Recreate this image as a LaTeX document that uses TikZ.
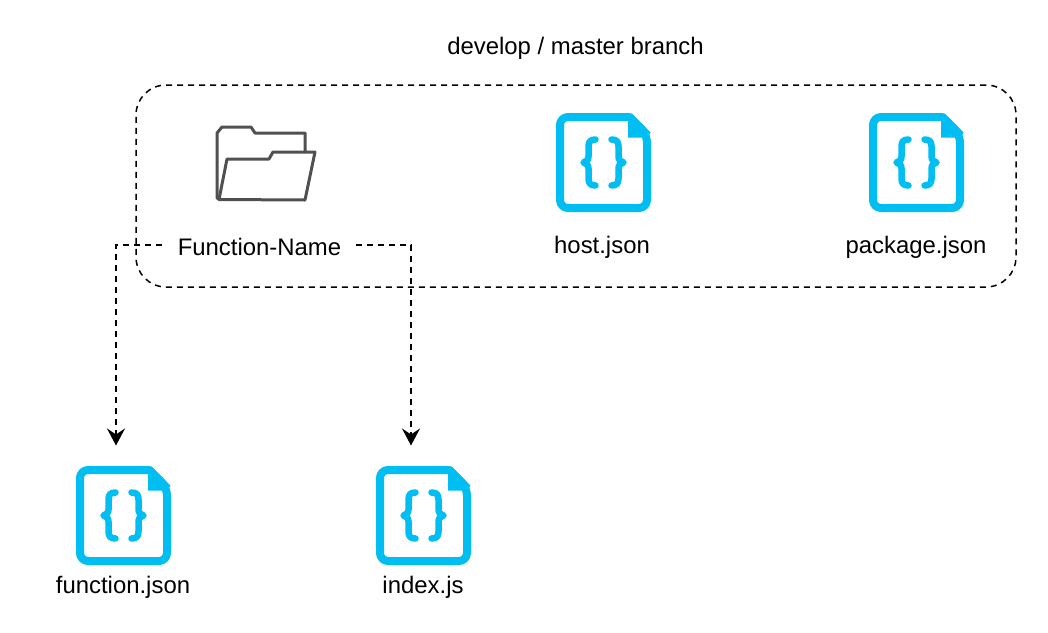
\documentclass[tikz,border=0pt]{standalone}
\usepackage{fontspec}
\setmainfont{Liberation Sans}
\usetikzlibrary{arrows.meta}
\definecolor{iconblue}{HTML}{00BEF2}
\definecolor{foldergrey}{HTML}{505050}
\tikzset{
  x=1pt,y=-1pt,
  label text/.style={font=\fontsize{23.9}{28}\selectfont,text=black,inner sep=0pt,anchor=center},
  dashline/.style={draw=black,line width=1.5pt,dash pattern=on 6pt off 5pt},
  flow/.style={dashline,-{Stealth[length=17pt,width=18pt,inset=6pt]}},
  folderline/.style={draw=foldergrey,line width=3pt,line join=round,line cap=round},
  filefile/.style={draw=iconblue,line width=8pt,line join=round,fill=white},
  bracestroke/.style={draw=iconblue,line width=6.5pt,line cap=round,line join=round},
  pics/jsonfile/.style={code={
    \draw[filefile,rounded corners=8pt] (0,-45.5) -- (-43.5,-45.5) -- (-43.5,45.5) -- (43.5,45.5) -- (43.5,-28) [sharp corners] -- (26,-45.5) -- cycle;
    \fill[iconblue] (24.5,-47) -- (28,-49) -- (47,-30) -- (44,-25) -- (24.5,-25) -- cycle;
    \draw[bracestroke]
      (-8,-23) .. controls (-13,-23) and (-15,-21) .. (-15,-16) -- (-15,-6) .. controls (-15,-2.5) and (-17,-1) .. (-20,0)
      .. controls (-17,1) and (-15,2.5) .. (-15,6) -- (-15,16) .. controls (-15,21) and (-13,23) .. (-8,23);
    \draw[bracestroke]
      (8,-23) .. controls (13,-23) and (15,-21) .. (15,-16) -- (15,-6) .. controls (15,-2.5) and (17,-1) .. (20,0)
      .. controls (17,1) and (15,2.5) .. (15,6) -- (15,16) .. controls (15,21) and (13,23) .. (8,23);
  }}
}
\begin{document}
\begin{tikzpicture}
\useasboundingbox (0,0) rectangle (1048,632);
\fill[white] (0,0) rectangle (1048,632);

\node[label text] (branch) at (575.5,48) {develop / master branch};
\node[draw=black,line width=1.5pt,dash pattern=on 6pt off 5pt,rounded corners=30pt,minimum width=880pt,minimum height=202pt,inner sep=0pt] (group) at (576,186) {};

% folder
\draw[folderline] (219,199) -- (217,198) -- (217,133) -- (222,127) -- (251,127) -- (255,133) -- (305,133) -- (305,152);
\draw[folderline] (219,199.5) -- (227,159) -- (269,159) -- (273,152) -- (315,152) -- (305,200) -- cycle;

\pic at (603.5,162.5) {jsonfile};
\pic at (916.5,162.5) {jsonfile};
\pic at (123.5,515.5) {jsonfile};
\pic at (423.5,515.5) {jsonfile};

\node[label text] (fname) at (259.5,247) {Function-Name};
\node[label text] (host) at (602,247) {host.json};
\node[label text] (pkg) at (916,247) {package.json};
\node[label text] (fjson) at (123,587) {function.json};
\node[label text] (ijs) at (423,587) {index.js};

\coordinate (fjsontop) at (116,445.5);
\coordinate (ijstop) at (411,445.5);
\coordinate (fnameW) at (162,245);
\coordinate (fnameE) at (356,245);

\draw[flow] (fnameW) -| (fjsontop);
\draw[flow] (fnameE) -| (ijstop);
\end{tikzpicture}
\end{document}
